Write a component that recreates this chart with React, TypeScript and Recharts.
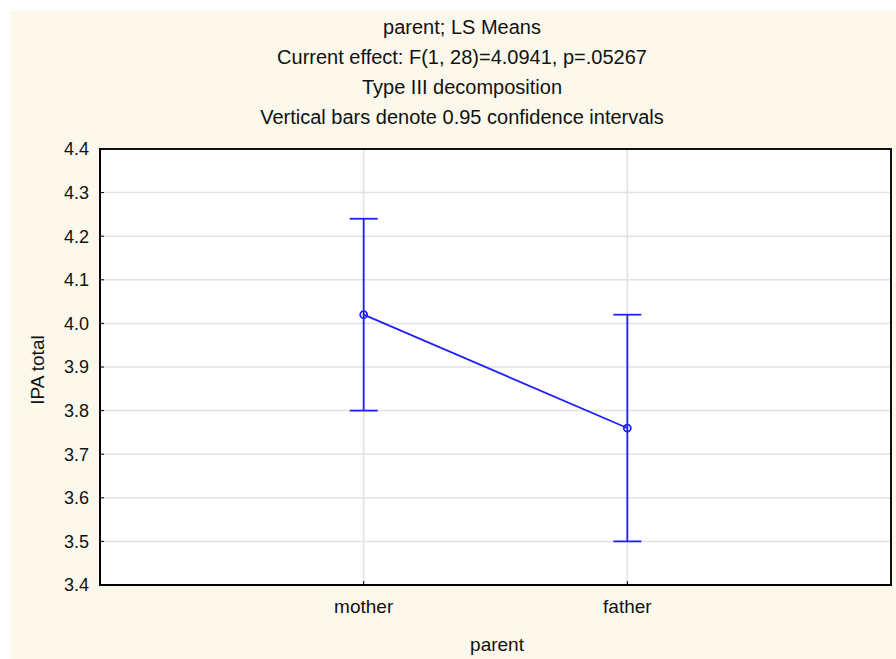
import React from 'react';
import {
  ComposedChart,
  Line,
  XAxis,
  YAxis,
  CartesianGrid,
  ErrorBar,
  ReferenceArea,
} from 'recharts';

const categories = ['mother', 'father'];
const means = [4.02, 3.76];
const lowerCI = [3.8, 3.5];
const upperCI = [4.24, 4.02];
const yTicks = [3.4, 3.5, 3.6, 3.7, 3.8, 3.9, 4.0, 4.1, 4.2, 4.3, 4.4];
const titleLines = [
  'parent; LS Means',
  'Current effect: F(1, 28)=4.0941, p=.05267',
  'Type III decomposition',
  'Vertical bars denote 0.95 confidence intervals',
];

const data = categories.map((name, i) => ({
  pos: i + 1,
  name,
  mean: means[i],
  ci: [means[i] - lowerCI[i], upperCI[i] - means[i]],
}));

const FONT = '"Liberation Sans", Arial, sans-serif';
const BLUE = '#2020ff';
const TEXT = '#111';

export default function App() {
  return (
    <div
      style={{
        position: 'absolute',
        left: 10,
        top: 11,
        width: 886,
        height: 648,
        background: '#fdf8ec',
        fontFamily: FONT,
      }}
    >
      {titleLines.map((line, i) => (
        <div
          key={line}
          style={{
            position: 'absolute',
            left: 0,
            width: 904,
            top: 1 + i * 30,
            height: 30,
            lineHeight: '30px',
            textAlign: 'center',
            fontSize: 20,
            color: TEXT,
          }}
        >
          {line}
        </div>
      ))}
      <div
        style={{
          position: 'absolute',
          left: 28 - 60,
          top: 359 - 12,
          width: 120,
          height: 24,
          lineHeight: '24px',
          textAlign: 'center',
          fontSize: 19,
          color: TEXT,
          transform: 'rotate(-90deg)',
        }}
      >
        IPA total
      </div>
      <div
        style={{
          position: 'absolute',
          left: 487 - 60,
          top: 634 - 12,
          width: 120,
          height: 24,
          lineHeight: '24px',
          textAlign: 'center',
          fontSize: 19,
          color: TEXT,
        }}
      >
        parent
      </div>
      <div style={{ position: 'absolute', left: 0, top: 0 }}>
        <ComposedChart
          width={886}
          height={648}
          data={data}
          margin={{ top: 138, right: 5, left: 40, bottom: 44 }}
        >
          <CartesianGrid stroke="#e2e2e2" strokeWidth={1.5} fill="#ffffff" />
          <XAxis
            type="number"
            dataKey="pos"
            domain={[0, 3]}
            ticks={[1, 2]}
            tickFormatter={(v: number) => categories[v - 1]}
            height={30}
            tickSize={-4}
            tickMargin={19}
            axisLine={{ stroke: '#000', strokeWidth: 1.5 }}
            tickLine={{ stroke: '#000' }}
            tick={{ fontSize: 19, fill: TEXT, fontFamily: FONT }}
          />
          <YAxis
            type="number"
            domain={[3.4, 4.4]}
            ticks={yTicks}
            tickFormatter={(v: number) => v.toFixed(1)}
            width={50}
            tickSize={-4}
            tickMargin={15}
            axisLine={{ stroke: '#000', strokeWidth: 1.5 }}
            tickLine={{ stroke: '#000' }}
            tick={{ fontSize: 18, fill: TEXT, fontFamily: FONT }}
            interval={0}
          />
          <ReferenceArea
            x1={0}
            x2={3}
            y1={3.4}
            y2={4.4}
            fill="none"
            stroke="#111"
            strokeWidth={2}
          />
          <Line
            dataKey="mean"
            stroke={BLUE}
            strokeWidth={1.8}
            dot={{ r: 3.5, stroke: BLUE, strokeWidth: 1.8, fill: 'none' }}
            isAnimationActive={false}
          >
            <ErrorBar
              dataKey="ci"
              direction="y"
              width={14}
              stroke={BLUE}
              strokeWidth={1.8}
              isAnimationActive={false}
            />
          </Line>
        </ComposedChart>
      </div>
    </div>
  );
}
